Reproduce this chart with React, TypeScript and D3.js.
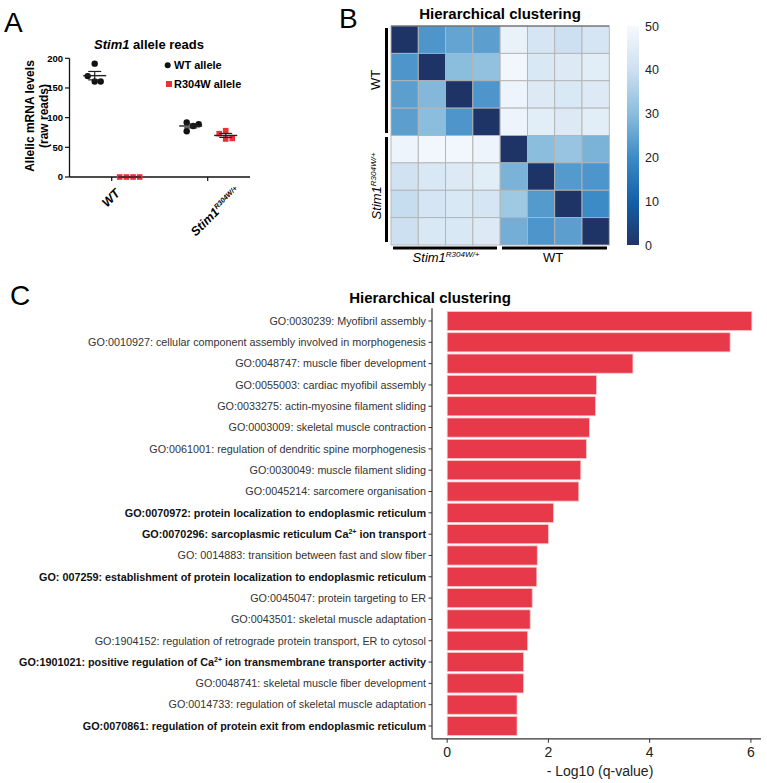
import React from "react";
import * as d3 from "d3";

// ---------- Panel A data ----------
const groupsA = ["WT", "Stim1"];
const wtAllele_WT = [191, 170, 161, 161];
const wtAllele_WT_jit = [0, -7, 0, 6];
const mutAllele_WT = [0, 0, 0, 0];
const mutAllele_WT_jit = [-10, -3.3, 3.4, 10];
const wtAllele_Stim = [92, 86, 89, 77];
const wtAllele_Stim_jit = [-4, 2.5, 8, -4];
const mutAllele_Stim = [73, 78, 64, 65];
const mutAllele_Stim_jit = [-6.5, 0, 0, 6.5];
const yTicksA = [0, 50, 100, 150, 200];

// ---------- Panel B data ----------
const heatRows = [
  [0, 22, 25, 24, 47, 42, 40, 42],
  [22, 0, 30, 31, 49, 43, 44, 45],
  [24, 29, 0, 22, 48, 44, 43, 44],
  [24, 30, 22, 0, 48, 45, 44, 45],
  [48, 49, 49, 48, 0, 30, 32, 28],
  [41, 43, 44, 45, 28, 0, 23, 22],
  [39, 42, 43, 42, 33, 23, 0, 20],
  [40, 43, 43, 44, 27, 22, 24, 0],
];
const colorStopVals = [0, 10, 20, 30, 40, 50];
const colorStopCols = ["#1f3466", "#1360a8", "#3d8bc6", "#8bbddd", "#cde0f1", "#f5f9fd"];
const colorbarTicks = [0, 10, 20, 30, 40, 50];

// ---------- Panel C data ----------
const goTerms = [
  "GO:0030239: Myofibril assembly",
  "GO:0010927: cellular component assembly involved in morphogenesis",
  "GO:0048747: muscle fiber development",
  "GO:0055003: cardiac myofibil assembly",
  "GO:0033275: actin-myosine filament sliding",
  "GO:0003009: skeletal muscle contraction",
  "GO:0061001: regulation of dendritic spine morphogenesis",
  "GO:0030049: muscle filament sliding",
  "GO:0045214: sarcomere organisation",
  "GO:0070972: protein localization to endoplasmic reticulum",
  "GO:0070296: sarcoplasmic reticulum Ca^{2+} ion transport",
  "GO: 0014883: transition between fast and slow fiber",
  "GO: 007259: establishment of protein localization to endoplasmic reticulum",
  "GO:0045047: protein targeting to ER",
  "GO:0043501: skeletal muscle adaptation",
  "GO:1904152: regulation of retrograde protein transport, ER to cytosol",
  "GO:1901021: positive regulation of Ca^{2+} ion transmembrane transporter activity",
  "GO:0048741: skeletal muscle fiber development",
  "GO:0014733: regulation of skeletal muscle adaptation",
  "GO:0070861: regulation of protein exit from endoplasmic reticulum",
];
const goBold = [false, false, false, false, false, false, false, false, false, true, true, false, true, false, false, false, true, false, false, true];
const goValues = [6.02, 5.59, 3.67, 2.95, 2.93, 2.81, 2.75, 2.64, 2.6, 2.1, 2.0, 1.78, 1.77, 1.68, 1.64, 1.59, 1.51, 1.51, 1.38, 1.38];
const xTicksC = [0, 2, 4, 6];

const FONT = "'Liberation Sans', Arial, Helvetica, sans-serif";

function rich(s: string, supSize: number, shift: number) {
  const parts = s.split(/\^\{([^}]*)\}/);
  const out: any[] = [];
  let raised = false;
  parts.forEach((p, i) => {
    if (p === "") return;
    if (i % 2 === 1) {
      out.push(
        <tspan key={i} dy={-shift} fontSize={supSize}>
          {p}
        </tspan>
      );
      raised = true;
    } else {
      out.push(
        <tspan key={i} dy={raised ? shift : 0}>
          {p}
        </tspan>
      );
      raised = false;
    }
  });
  return out;
}

function PanelA() {
  const y = d3.scaleLinear().domain([0, 200]).range([177, 58.3]);
  const x = d3.scalePoint<string>().domain(groupsA).range([111.7, 207.7]);
  const off = { wt: -17, mut: 18 };
  const sets = [
    { g: "WT", vals: wtAllele_WT, jit: wtAllele_WT_jit, kind: "wt" },
    { g: "WT", vals: mutAllele_WT, jit: mutAllele_WT_jit, kind: "mut" },
    { g: "Stim1", vals: wtAllele_Stim, jit: wtAllele_Stim_jit, kind: "wt" },
    { g: "Stim1", vals: mutAllele_Stim, jit: mutAllele_Stim_jit, kind: "mut" },
  ];
  return (
    <g fontFamily={FONT}>
      <text x={4} y={32} fontSize={28}>A</text>
      <text x={149} y={49} fontSize={13} fontWeight="bold" textAnchor="middle">
        <tspan fontStyle="italic">Stim1</tspan> allele reads
      </text>
      {/* y axis */}
      <line x1={69.5} x2={69.5} y1={y(200)} y2={y(0)} stroke="#111" strokeWidth={1.3} />
      {yTicksA.map((t) => (
        <g key={t}>
          <line x1={65} x2={69.5} y1={y(t)} y2={y(t)} stroke="#111" strokeWidth={1.2} />
          <text x={63} y={y(t) + 3.4} fontSize={9.5} fontWeight="bold" textAnchor="end">{t}</text>
        </g>
      ))}
      <text transform={`translate(34,116) rotate(-90)`} fontSize={12} fontWeight="bold" textAnchor="middle">Allelic mRNA levels</text>
      <text transform={`translate(48,116) rotate(-90)`} fontSize={12} fontWeight="bold" textAnchor="middle">(raw reads)</text>
      {/* x axis */}
      <line x1={69.5} x2={250} y1={y(0)} y2={y(0)} stroke="#111" strokeWidth={1.3} />
      {groupsA.map((g) => (
        <line key={g} x1={x(g)} x2={x(g)} y1={y(0)} y2={y(0) + 4} stroke="#111" strokeWidth={1.2} />
      ))}
      <text transform={`translate(${x("WT")! + 9},194) rotate(-45)`} fontSize={12.5} fontWeight="bold" fontStyle="italic" textAnchor="end">WT</text>
      <text transform={`translate(${x("Stim1")! + 33},192) rotate(-45)`} fontSize={12.5} fontWeight="bold" fontStyle="italic" textAnchor="end">
        {rich("Stim1^{R304W/+}", 7, 4.5)}
      </text>
      {/* points + mean/SEM */}
      {sets.map((s, si) => {
        const cx = x(s.g)! + (s.kind === "wt" ? off.wt : off.mut);
        const m = d3.mean(s.vals)!;
        const sd = d3.deviation(s.vals) || 0;
        const sem = sd / Math.sqrt(s.vals.length);
        return (
          <g key={si}>
            {s.vals.map((v, i) =>
              s.kind === "wt" ? (
                <circle key={i} cx={cx + s.jit[i]} cy={y(v)} r={3.2} fill="#111" />
              ) : (
                <rect key={i} x={cx + s.jit[i] - 2.8} y={y(v) - 2.8} width={5.6} height={5.6} fill="#ee3035" />
              )
            )}
            <line x1={cx - 11.5} x2={cx + 11.5} y1={y(m)} y2={y(m)} stroke="#222" strokeWidth={1.4} />
            {sem > 0 && (
              <g stroke="#222" strokeWidth={1.2}>
                <line x1={cx} x2={cx} y1={y(m + sem)} y2={y(m - sem)} />
                <line x1={cx - 6.5} x2={cx + 6.5} y1={y(m + sem)} y2={y(m + sem)} />
                <line x1={cx - 6.5} x2={cx + 6.5} y1={y(m - sem)} y2={y(m - sem)} />
              </g>
            )}
          </g>
        );
      })}
      {/* legend */}
      <circle cx={167.7} cy={65.3} r={3} fill="#111" />
      <text x={174} y={69.3} fontSize={11} fontWeight="bold">WT allele</text>
      <rect x={166} y={81} width={6} height={6} fill="#ee3035" />
      <text x={174} y={88} fontSize={11} fontWeight="bold">R304W allele</text>
    </g>
  );
}

function PanelB() {
  const n = heatRows.length;
  const idx = d3.range(n).map(String);
  const x = d3.scaleBand<string>().domain(idx).range([391, 609.3]);
  const y = d3.scaleBand<string>().domain(idx).range([26, 245]);
  const color = d3.scaleLinear<string>().domain(colorStopVals).range(colorStopCols).interpolate(d3.interpolateRgb).clamp(true);
  const cb = d3.scaleLinear().domain([0, 50]).range([245, 26]);
  return (
    <g fontFamily={FONT}>
      <defs>
        <linearGradient id="cbgrad" x1="0" x2="0" y1="1" y2="0">
          {colorStopVals.map((v, i) => (
            <stop key={i} offset={`${(v / 50) * 100}%`} stopColor={colorStopCols[i]} />
          ))}
        </linearGradient>
      </defs>
      <text x={339} y={28} fontSize={28}>B</text>
      <text x={500} y={19} fontSize={15} fontWeight="bold" textAnchor="middle">Hierarchical clustering</text>
      {heatRows.map((row, r) =>
        row.map((v, c) => (
          <rect key={`${r}-${c}`} x={x(String(c))} y={y(String(r))} width={x.bandwidth()} height={y.bandwidth()} fill={color(v)} stroke="#b3b3b3" strokeWidth={0.9} />
        ))
      )}
      <line x1={391} x2={609.3} y1={26} y2={26} stroke="#555" strokeWidth={1.2} />
      {/* group bars */}
      <rect x={385} y={28} width={3} height={105} fill="#000" />
      <rect x={385} y={137} width={3} height={105} fill="#000" />
      <rect x={393} y={246.5} width={104} height={3} fill="#000" />
      <rect x={502} y={246.5} width={105} height={3} fill="#000" />
      <text transform="translate(380,80) rotate(-90)" fontSize={13} textAnchor="middle">WT</text>
      <text transform="translate(381,186) rotate(-90)" fontSize={13} fontStyle="italic" textAnchor="middle">
        {rich("Stim1^{R304W/+}", 8, 5)}
      </text>
      <text x={446} y={262} fontSize={13} fontStyle="italic" textAnchor="middle">
        {rich("Stim1^{R304W/+}", 8, 5)}
      </text>
      <text x={553} y={262} fontSize={13} textAnchor="middle">WT</text>
      {/* colorbar */}
      <rect x={627} y={26} width={12} height={219} fill="url(#cbgrad)" />
      {colorbarTicks.map((t) => (
        <text key={t} x={645} y={cb(t) + 4.5} fontSize={12.5} fill="#222">{t}</text>
      ))}
    </g>
  );
}

function PanelC() {
  const y = d3.scaleBand<string>().domain(goTerms).range([310.34, 736.66]).paddingInner(0.1).paddingOuter(0.05);
  const x = d3.scaleLinear().domain([-0.3, 6.2]).range([432, 761]);
  const step = y.step();
  const axTop = y.range()[0] - 0.1 * step;
  const axBot = y.range()[1] + 0.1 * step;
  return (
    <g fontFamily={FONT}>
      <text x={10} y={305} fontSize={28}>C</text>
      <text x={430} y={303} fontSize={15} fontWeight="bold" textAnchor="middle">Hierarchical clustering</text>
      {goTerms.map((t, i) => (
        <g key={t}>
          <rect x={x(0)} y={y(t)} width={x(goValues[i]) - x(0)} height={y.bandwidth()} fill="#e8394a" stroke="#f9c9cd" strokeWidth={0.8} />
          <line x1={428.5} x2={432} y1={y(t)! + y.bandwidth() / 2} y2={y(t)! + y.bandwidth() / 2} stroke="#333" strokeWidth={1} />
          <text x={426} y={y(t)! + y.bandwidth() / 2 + 3.8} fontSize={10.8} fill={goBold[i] ? "#111" : "#333"} fontWeight={goBold[i] ? "bold" : "normal"} textAnchor="end">
            {rich(t, 7, 4)}
          </text>
        </g>
      ))}
      <line x1={432} x2={432} y1={axTop} y2={axBot} stroke="#333" strokeWidth={1.2} />
      <line x1={432} x2={761} y1={axBot} y2={axBot} stroke="#333" strokeWidth={1.2} />
      {xTicksC.map((t) => (
        <g key={t}>
          <line x1={x(t)} x2={x(t)} y1={axBot} y2={axBot + 4} stroke="#333" strokeWidth={1} />
          <text x={x(t)} y={757} fontSize={14} textAnchor="middle" fill="#222">{t}</text>
        </g>
      ))}
      <text x={600} y={776} fontSize={14} textAnchor="middle" fill="#222">- Log10 (q-value)</text>
    </g>
  );
}

export default function App() {
  return (
    <svg width={767} height={783} style={{ position: "absolute", left: 0, top: 0, background: "#fff" }}>
      <rect width={767} height={783} fill="#fff" />
      <PanelA />
      <PanelB />
      <PanelC />
    </svg>
  );
}
